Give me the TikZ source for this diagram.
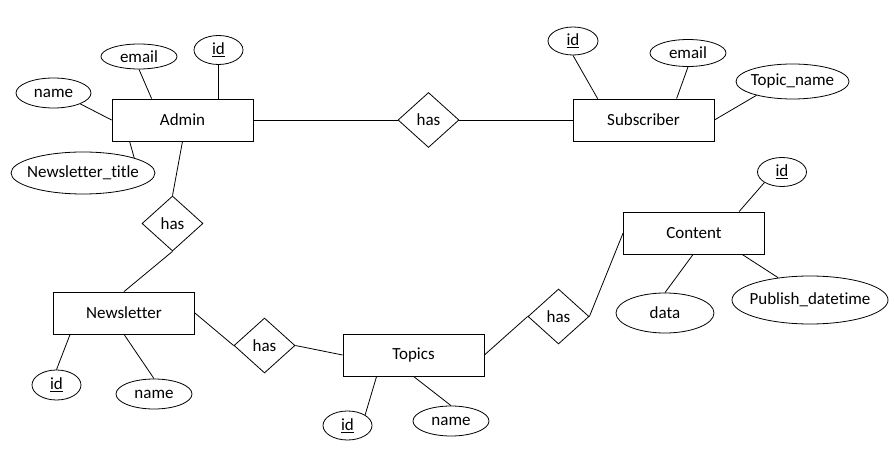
\documentclass[tikz,border=0pt]{standalone}
\usepackage{fontspec}
\setmainfont{Carlito}[Ligatures={TeX,NoCommon}]
\usetikzlibrary{shapes.geometric}
\newcommand\attrtext[1]{\makebox[0pt]{#1}}
\begin{document}
\begin{tikzpicture}[x=1pt,y=-1pt,line width=0.8pt,
  every node/.style={font=\fontsize{17}{20}\selectfont, inner sep=0pt},
  ent/.style={draw, rectangle, minimum width=141pt, minimum height=42pt},
  attr/.style={draw, ellipse},
  rel/.style={draw, diamond, minimum width=61pt, minimum height=55pt}]
\useasboundingbox[fill=white] (0,0) rectangle (894,470);
% entities
\node[ent] (admin) at (182.5,120) {Admin};
\node[ent] (sub) at (643.5,120) {Subscriber};
\node[ent] (news) at (124,313) {Newsletter};
\node[ent] (topics) at (413.5,355) {Topics};
\node[ent] (content) at (694,233) {Content};
% relationships
\node[rel] (h1) at (428.5,120) {has};
\node[rel] (h2) at (172.5,223.5) {has};
\node[rel] (h3) at (264.5,345.5) {has};
\node[rel] (h4) at (558.5,316.5) {has};
% attributes
\node[attr, minimum width=76pt, minimum height=25pt] (aemail) at (139,56.5) {\attrtext{email}};
\node[attr, minimum width=49pt, minimum height=29pt] (aid) at (218.5,50) {\attrtext{\underline{id}}};
\node[attr, minimum width=75pt, minimum height=30pt] (aname) at (53.5,93) {\attrtext{name}};
\node[attr, minimum width=144pt, minimum height=42pt] (atitle) at (83,173) {\attrtext{Newsletter\_title}};
\node[attr, minimum width=50pt, minimum height=28pt] (sid) at (573,41) {\attrtext{\underline{id}}};
\node[attr, minimum width=76pt, minimum height=27pt] (semail) at (688,53) {\attrtext{email}};
\node[attr, minimum width=113pt, minimum height=35pt] (stopic) at (792.5,81.5) {\attrtext{Topic\_name}};
\node[attr, minimum width=49pt, minimum height=30pt] (nid) at (56.5,385) {\attrtext{\underline{id}}};
\node[attr, minimum width=76pt, minimum height=30pt] (nname) at (154,394) {\attrtext{name}};
\node[attr, minimum width=49pt, minimum height=29pt] (tid) at (347.5,425.5) {\attrtext{\underline{id}}};
\node[attr, minimum width=76pt, minimum height=30pt] (tname) at (451,421) {\attrtext{name}};
\node[attr, minimum width=49pt, minimum height=29pt] (cid) at (782,172) {\attrtext{\underline{id}}};
\node[attr, minimum width=98pt, minimum height=40pt] (cdata) at (665,313) {\attrtext{data}};
\node[attr, minimum width=156pt, minimum height=48pt] (cpub) at (810,300) {\attrtext{Publish\_datetime}};
% connectors
\draw (aemail.south) -- ([xshift=40pt]admin.north west);
\draw (aid.south) -- (aid.south |- admin.north);
\draw (aname.south east) -- (admin.west);
\draw (atitle.north east) -- ([xshift=18pt]admin.south west);
\draw (admin.south) -- (h2.north);
\draw (h2.south) -- (news.north);
\draw (admin.east) -- (h1.west);
\draw (h1.east) -- (sub.west);
\draw (sid.south) -- ([xshift=25pt]sub.north west);
\draw (semail.south) -- ([xshift=104pt]sub.north west);
\draw (sub.east) -- (stopic.201);
\draw (nid.north) -- ([xshift=17pt]news.south west);
\draw (nname.north) -- (news.south);
\draw (news.east) -- (h3.west);
\draw (h3.east) -- (topics.west);
\draw (tid.north east) -- ([xshift=34pt]topics.south west);
\draw (tname.north) -- (topics.south);
\draw (topics.east) -- (h4.west);
\draw (h4.east) -- (content.west);
\draw (cid.south west) -- ([xshift=116pt]content.north west);
\draw (cdata.north) -- ([xshift=70pt]content.south west);
\draw ([xshift=119pt]content.south west) -- (cpub.145);
\end{tikzpicture}
\end{document}
